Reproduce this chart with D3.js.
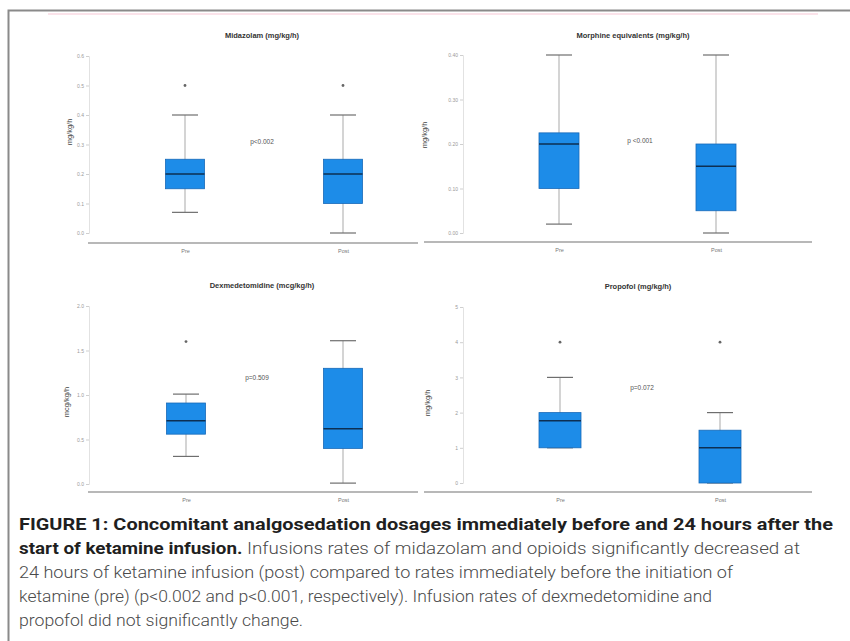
<!DOCTYPE html>
<html>
<head>
<meta charset="utf-8">
<script src="https://cdn.jsdelivr.net/npm/d3@7"></script>
<style>
  body { margin: 0; background: #fff; }
  svg { display: block; }
</style>
</head>
<body>
<script>
// chart values
var groups = ["Pre", "Post"];
var titles = ["Midazolam (mg/kg/h)", "Morphine equivalents (mg/kg/h)", "Dexmedetomidine (mcg/kg/h)", "Propofol (mg/kg/h)"];
var pLabels = ["p<0.002", "p <0.001", "p=0.509", "p=0.072"];
var yTitles = ["mg/kg/h", "mg/kg/h", "mcg/kg/h", "mg/kg/h"];

var midazolamTicks = [0, 0.1, 0.2, 0.3, 0.4, 0.5, 0.6];
var morphineTicks = [0, 0.1, 0.2, 0.3, 0.4];
var dexTicks = [0, 0.5, 1.0, 1.5, 2.0];
var propofolTicks = [0, 1, 2, 3, 4, 5];

var midazolamBoxes = [
  {min: 0.07, q1: 0.15, median: 0.20, q3: 0.25, max: 0.40, out: [0.50]},
  {min: 0.00, q1: 0.10, median: 0.20, q3: 0.25, max: 0.40, out: [0.50]}
];
var morphineBoxes = [
  {min: 0.02, q1: 0.10, median: 0.20, q3: 0.225, max: 0.40, out: []},
  {min: 0.00, q1: 0.05, median: 0.15, q3: 0.20, max: 0.40, out: []}
];
var dexBoxes = [
  {min: 0.31, q1: 0.56, median: 0.71, q3: 0.91, max: 1.01, out: [1.60]},
  {min: 0.01, q1: 0.40, median: 0.62, q3: 1.30, max: 1.61, out: []}
];
var propofolBoxes = [
  {min: 1.0, q1: 1.0, median: 1.77, q3: 2.0, max: 3.0, out: [4]},
  {min: 0.0, q1: 0.0, median: 1.0, q3: 1.5, max: 2.0, out: [4]}
];

var w = 850;
var h = 641;

var svg = d3.select("body").append("svg")
  .attr("width", w)
  .attr("height", h);

// frame of the figure
svg.append("path")
  .attr("d", "M8.5," + h + "V10.5H" + w)
  .attr("fill", "none")
  .attr("stroke", "#8a8a8a")
  .attr("stroke-width", 2);

// faint top edge of the embedded image
svg.append("line")
  .attr("x1", 48).attr("x2", 818).attr("y1", 14).attr("y2", 14)
  .attr("stroke", "#fbe3ea").attr("stroke-width", 2);

// layout of the four panels
var panels = [
  {boxes: midazolamBoxes, ticks: midazolamTicks, fmt: ".1f", max: 0.6,
   xr: [185, 343], yr: [233, 56], axisY: 243, ax: [88, 418], yAx: 89,
   title: [262, 38], p: [262, 142], yt: [72, 132], bw: 39},
  {boxes: morphineBoxes, ticks: morphineTicks, fmt: ".2f", max: 0.4,
   xr: [559, 716], yr: [233, 55], axisY: 242, ax: [424, 812], yAx: 463,
   title: [633, 38], p: [640, 141], yt: [427, 135], bw: 40},
  {boxes: dexBoxes, ticks: dexTicks, fmt: ".1f", max: 2.0,
   xr: [186, 343], yr: [484, 306], axisY: 492, ax: [88, 418], yAx: 89,
   title: [262, 288], p: [257, 378], yt: [69, 402], bw: 39},
  {boxes: propofolBoxes, ticks: propofolTicks, fmt: "d", max: 5,
   xr: [560, 720], yr: [483, 307], axisY: 492, ax: [424, 812], yAx: 463,
   title: [638, 289], p: [642, 388], yt: [430, 403], bw: 42}
];

panels.forEach(function(pn, i) {
  var g = svg.append("g");

  var x = d3.scalePoint().domain(groups).range(pn.xr);
  var y = d3.scaleLinear().domain([0, pn.max]).range(pn.yr);

  // y axis
  var yAxis = g.append("g")
    .attr("transform", "translate(" + pn.yAx + ",0)")
    .call(d3.axisLeft(y).tickValues(pn.ticks).tickFormat(d3.format(pn.fmt)).tickSize(3).tickPadding(2));
  yAxis.select(".domain").attr("stroke", "#e2e2e2");
  yAxis.selectAll(".tick line").attr("stroke", "#cfcfcf");
  yAxis.selectAll("text")
    .attr("fill", "#9a9a9a")
    .attr("font-size", "5px")
    .attr("font-family", "Liberation Sans, Arial, sans-serif");

  // x axis baseline
  g.append("line")
    .attr("x1", pn.ax[0]).attr("x2", pn.ax[1])
    .attr("y1", pn.axisY).attr("y2", pn.axisY)
    .attr("stroke", "#a0a0a0").attr("stroke-width", 1.5);

  var xAxis = g.append("g")
    .attr("transform", "translate(0," + pn.axisY + ")")
    .call(d3.axisBottom(x).tickSize(0).tickPadding(6));
  xAxis.select(".domain").remove();
  xAxis.selectAll("text")
    .attr("fill", "#777")
    .attr("font-size", "5.5px")
    .attr("font-family", "Liberation Sans, Arial, sans-serif");

  // whiskers
  var bx = g.selectAll(".bx")
    .data(pn.boxes)
    .enter()
    .append("g");

  bx.append("line")
    .attr("x1", function(d, j) { return x(groups[j]); })
    .attr("x2", function(d, j) { return x(groups[j]); })
    .attr("y1", function(d) { return y(d.min); })
    .attr("y2", function(d) { return y(d.max); })
    .attr("stroke", "#a9a9a9").attr("stroke-width", 1);

  bx.selectAll(".cap")
    .data(function(d, j) { return [{v: d.min, c: groups[j]}, {v: d.max, c: groups[j]}]; })
    .enter()
    .append("line")
    .attr("x1", function(d) { return x(d.c) - 13; })
    .attr("x2", function(d) { return x(d.c) + 13; })
    .attr("y1", function(d) { return y(d.v); })
    .attr("y2", function(d) { return y(d.v); })
    .attr("stroke", "#6e6e6e").attr("stroke-width", 1.2);

  // boxes
  bx.append("rect")
    .attr("x", function(d, j) { return x(groups[j]) - pn.bw / 2; })
    .attr("y", function(d) { return y(d.q3); })
    .attr("width", pn.bw)
    .attr("height", function(d) { return y(d.q1) - y(d.q3); })
    .attr("fill", "#1d8ce8")
    .attr("stroke", "#1769b8")
    .attr("stroke-width", 0.8);

  bx.append("line")
    .attr("x1", function(d, j) { return x(groups[j]) - pn.bw / 2; })
    .attr("x2", function(d, j) { return x(groups[j]) + pn.bw / 2; })
    .attr("y1", function(d) { return y(d.median); })
    .attr("y2", function(d) { return y(d.median); })
    .attr("stroke", "#0d2f52").attr("stroke-width", 1.6);

  // outliers
  bx.selectAll(".out")
    .data(function(d, j) { return d.out.map(function(v) { return {v: v, c: groups[j]}; }); })
    .enter()
    .append("circle")
    .attr("cx", function(d) { return x(d.c); })
    .attr("cy", function(d) { return y(d.v); })
    .attr("r", 1.4)
    .attr("fill", "#666");

  // titles and labels
  g.append("text")
    .attr("x", pn.title[0]).attr("y", pn.title[1])
    .attr("text-anchor", "middle")
    .attr("font-family", "Liberation Sans, Arial, sans-serif")
    .attr("font-weight", "bold")
    .attr("font-size", "7.5px")
    .attr("fill", "#333")
    .text(titles[i]);

  g.append("text")
    .attr("x", pn.p[0]).attr("y", pn.p[1])
    .attr("text-anchor", "middle")
    .attr("dominant-baseline", "middle")
    .attr("font-family", "Liberation Sans, Arial, sans-serif")
    .attr("font-size", "6.5px")
    .attr("fill", "#555")
    .text(pLabels[i]);

  g.append("text")
    .attr("transform", "translate(" + pn.yt[0] + "," + pn.yt[1] + ") rotate(-90)")
    .attr("text-anchor", "middle")
    .attr("font-family", "Liberation Sans, Arial, sans-serif")
    .attr("font-size", "7.5px")
    .attr("fill", "#444")
    .text(yTitles[i]);
});

// caption
var captionLines = [
  [{b: true, t: "FIGURE 1: Concomitant analgosedation dosages immediately before and 24 hours after the"}],
  [{b: true, t: "start of ketamine infusion."}, {b: false, t: " Infusions rates of midazolam and opioids significantly decreased at"}],
  [{b: false, t: "24 hours of ketamine infusion (post) compared to rates immediately before the initiation of"}],
  [{b: false, t: "ketamine (pre) (p<0.002 and p<0.001, respectively). Infusion rates of dexmedetomidine and"}],
  [{b: false, t: "propofol did not significantly change."}]
];
var lineEnds = [833, 800, 733, 712, 303];

captionLines.forEach(function(parts, i) {
  var t = svg.append("text")
    .attr("x", 19)
    .attr("y", 530 + i * 24)
    .attr("font-family", "Roboto, Lato, sans-serif")
    .attr("font-size", "16.5px");
  parts.forEach(function(p) {
    t.append("tspan")
      .attr("font-weight", p.b ? 700 : 300)
      .attr("fill", p.b ? "#1f1f1f" : "#4a4a4a")
      .text(p.t);
  });
  t.attr("textLength", lineEnds[i] - 19)
    .attr("lengthAdjust", "spacingAndGlyphs");
});
</script>
</body>
</html>
